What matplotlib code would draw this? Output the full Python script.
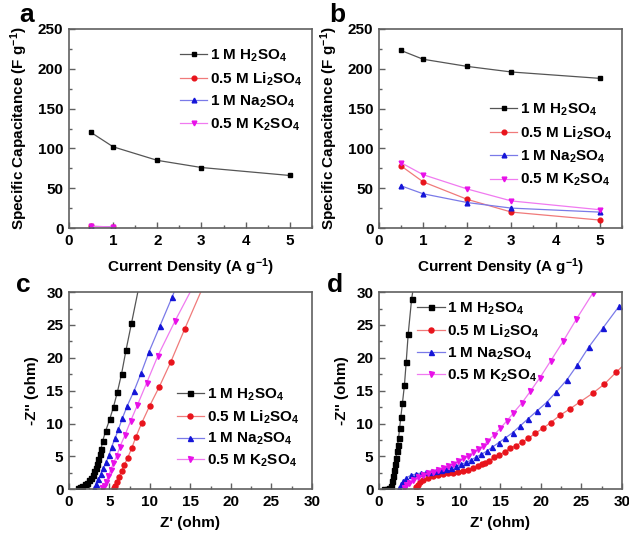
import matplotlib
matplotlib.use("Agg")
import matplotlib.pyplot as plt
from matplotlib.ticker import MultipleLocator

plt.rcParams['font.family'] = ['Liberation Sans', 'DejaVu Sans']
plt.rcParams['font.weight'] = 'bold'
plt.rcParams['axes.labelweight'] = 'bold'
plt.rcParams['mathtext.fontset'] = 'custom'
plt.rcParams['mathtext.rm'] = 'Liberation Sans:bold'
plt.rcParams['mathtext.bf'] = 'Liberation Sans:bold'
plt.rcParams['mathtext.it'] = 'Liberation Sans:bold:italic'

labels = ['1 M H$\\mathrm{_2}$SO$\\mathrm{_4}$', '0.5 M Li$\\mathrm{_2}$SO$\\mathrm{_4}$',
          '1 M Na$\\mathrm{_2}$SO$\\mathrm{_4}$', '0.5 M K$\\mathrm{_2}$SO$\\mathrm{_4}$']
colors = ['black', '#e8141c', '#1515d8', '#e810e8']
line_colors = ['#555555', '#f07a7a', '#7a7ae8', '#f07af0']
markers = ['s', 'o', '^', 'v']

# panel a: capacitance, first electrode
cur_a = [0.5, 1, 2, 3, 5]
cap_a_h2so4 = [120, 102, 85, 76, 66]
cur_a_short = [0.5, 1]
cap_a_li = [2, 1.5]
cap_a_na = [2, 1.5]
cap_a_k = [2, 1.5]

# panel b: capacitance, second electrode
cur_b = [0.5, 1, 2, 3, 5]
cap_b_h2so4 = [223, 212, 203, 196, 188]
cap_b_li = [78, 58, 36, 20, 10]
cap_b_na = [53, 43, 32, 25, 20]
cap_b_k = [82, 67, 49, 34, 23]

# panel c: Nyquist, first electrode
zr_c_h2so4 = [1.07, 1.4, 1.65, 1.95, 2.22, 2.5, 2.72, 2.93, 3.13, 3.3, 3.45, 3.62, 3.79, 3.97,
              4.16, 4.53, 5.03, 5.5, 5.97, 6.5, 7.05, 7.72, 8.75]
zi_c_h2so4 = [0.2, 0.35, 0.5, 0.75, 1.0, 1.4, 1.77, 2.25, 2.78, 3.3, 3.9, 4.6, 5.4, 6.2,
              7.35, 8.87, 10.65, 12.55, 14.75, 17.6, 21.2, 25.25, 31.5]
zr_c_li = [5.53, 5.69, 5.9, 6.18, 6.5, 6.84, 7.25, 7.75, 8.24, 8.99, 9.97, 11.16, 12.55, 14.3, 16.7]
zi_c_li = [0.15, 0.55, 1.16, 1.9, 2.8, 3.7, 4.8, 6.24, 7.9, 10.1, 12.7, 15.6, 19.3, 24.4, 31.2]
zr_c_na = [3.13, 3.34, 3.63, 3.92, 4.24, 4.57, 4.94, 5.28, 5.69, 6.1, 6.59, 7.2, 8.05, 8.92,
           9.9, 11.22, 12.73, 13.3]
zi_c_na = [0.25, 0.76, 1.5, 2.28, 3.2, 4.1, 5.2, 6.5, 7.75, 9.1, 10.8, 12.7, 15.0, 17.7,
           20.95, 24.8, 29.2, 31.0]
zr_c_k = [4.12, 4.33, 4.57, 4.86, 5.15, 5.48, 5.9, 6.3, 6.92, 7.62, 8.45, 9.6, 10.98, 13.1, 15.4]
zi_c_k = [0.15, 0.5, 1.16, 2.0, 2.94, 3.96, 5.1, 6.5, 8.26, 10.4, 12.8, 16.2, 20.3, 25.6, 31.0]

# panel d: Nyquist, second electrode
zr_d_h2so4 = [0.62, 0.96, 1.25, 1.5, 1.65, 1.78, 1.9, 2.0, 2.1, 2.2, 2.3, 2.42, 2.55, 2.7,
              2.9, 3.15, 3.36, 3.61, 4.03, 4.35]
zi_d_h2so4 = [0.1, 0.12, 0.2, 0.5, 1.2, 2.0, 2.9, 3.8, 4.8, 5.8, 6.7, 7.8, 9.3, 11.0,
              13.1, 15.9, 19.3, 23.6, 28.9, 31.5]
zr_d_li = [4.56, 4.77, 5.06, 5.48, 6.02, 6.64, 7.26, 7.88, 8.5, 9.13, 9.75, 10.37, 11.0, 11.6,
           12.2, 12.7, 13.1, 13.6, 14.24, 14.86, 15.57, 16.23, 16.94, 17.64, 18.47, 19.3,
           20.26, 21.21, 22.37, 23.58, 24.9, 26.4, 27.85, 29.3, 30.5]
zi_d_li = [0.3, 0.7, 1.1, 1.45, 1.75, 2.0, 2.2, 2.35, 2.45, 2.55, 2.65, 2.8, 2.95, 3.2,
           3.5, 3.8, 4.0, 4.35, 4.87, 5.22, 5.73, 6.24, 6.65, 7.15, 7.76, 8.52,
           9.28, 10.14, 11.26, 12.22, 13.34, 14.6, 16.0, 17.8, 19.2]
zr_d_na = [2.49, 2.7, 2.99, 3.4, 3.94, 4.56, 5.19, 5.8, 6.43, 7.05, 7.68, 8.3, 8.92, 9.54,
           10.17, 10.8, 11.4, 12.0, 12.65, 13.3, 14.0, 14.8, 15.6, 16.5, 17.4, 18.4, 19.5,
           20.7, 21.9, 23.25, 24.5, 25.9, 27.65, 29.7]
zi_d_na = [0.15, 0.8, 1.3, 1.77, 2.13, 2.33, 2.48, 2.58, 2.68, 2.78, 2.94, 3.09, 3.3, 3.5,
           3.8, 4.1, 4.46, 4.9, 5.3, 5.8, 6.4, 7.1, 7.8, 8.6, 9.6, 10.7, 11.9,
           13.2, 14.8, 16.7, 18.9, 21.6, 24.5, 27.9]
zr_d_k = [3.11, 3.32, 3.65, 4.15, 4.77, 5.39, 6.0, 6.64, 7.26, 7.88, 8.5, 9.13, 9.75, 10.37,
          11.0, 11.6, 12.24, 12.86, 13.4, 14.16, 15.0, 15.8, 16.6, 17.7, 18.7, 19.9, 21.2,
          22.75, 24.4, 26.4, 26.9]
zi_d_k = [0.26, 0.6, 1.0, 1.42, 1.82, 2.13, 2.43, 2.68, 2.94, 3.2, 3.55, 3.85, 4.26, 4.7,
          5.1, 5.6, 6.1, 6.6, 7.3, 8.2, 9.3, 10.4, 11.6, 13.2, 14.9, 17.0, 19.5,
          22.5, 25.9, 29.8, 31.0]


def style_axes(ax, xmax, ymax, xmaj, ymaj):
    ax.set_xlim(0, xmax)
    ax.set_ylim(0, ymax)
    ax.xaxis.set_major_locator(MultipleLocator(xmaj))
    ax.xaxis.set_minor_locator(MultipleLocator(xmaj / 2))
    ax.yaxis.set_major_locator(MultipleLocator(ymaj))
    ax.yaxis.set_minor_locator(MultipleLocator(ymaj / 2))
    ax.tick_params(which='both', direction='in', color='#606060', width=1,
                   labelsize=11, pad=4)
    ax.tick_params(which='major', length=4)
    ax.tick_params(which='minor', length=2.5)
    for sp in ax.spines.values():
        sp.set_color('#606060')
        sp.set_linewidth(1.2)
    for lab in ax.get_xticklabels() + ax.get_yticklabels():
        lab.set_fontweight('bold')


def draw(ax, xs, ys, ms):
    for x, y, c, lc, m, lab in zip(xs, ys, colors, line_colors, markers, labels):
        ax.plot(x, y, color=lc, marker=m, ms=ms, mfc=c, mec=c, lw=0.9, label=lab)


fig = plt.figure(figsize=(6.29, 5.33), dpi=100)
ax_a = fig.add_axes([0.1097, 0.5722, 0.386, 0.3734])
ax_b = fig.add_axes([0.6025, 0.5722, 0.386, 0.3734])
ax_c = fig.add_axes([0.1097, 0.0820, 0.386, 0.3700])
ax_d = fig.add_axes([0.6025, 0.0820, 0.386, 0.3700])

draw(ax_a, [cur_a, cur_a_short, cur_a_short, cur_a_short],
     [cap_a_h2so4, cap_a_li, cap_a_na, cap_a_k], 3.4)
draw(ax_b, [cur_b] * 4, [cap_b_h2so4, cap_b_li, cap_b_na, cap_b_k], 3.4)
draw(ax_c, [zr_c_h2so4, zr_c_li, zr_c_na, zr_c_k],
     [zi_c_h2so4, zi_c_li, zi_c_na, zi_c_k], 3.6)
draw(ax_d, [zr_d_h2so4, zr_d_li, zr_d_na, zr_d_k],
     [zi_d_h2so4, zi_d_li, zi_d_na, zi_d_k], 3.6)

for ax in (ax_a, ax_b):
    style_axes(ax, 5.5, 250, 1, 50)
    ax.set_xlabel('Current Density (A g$^{-1}$)', fontsize=11)
    ax.set_ylabel('Specific Capacitance (F g$^{-1}$)', fontsize=11)
    ax.xaxis.set_label_coords(0.5, -0.145)
    ax.yaxis.set_label_coords(-0.16, 0.5)
for ax in (ax_c, ax_d):
    style_axes(ax, 30, 30, 5, 5)
    ax.set_xlabel("Z' (ohm)", fontsize=11)
    ax.set_ylabel("-Z'' (ohm)", fontsize=11)
    ax.xaxis.set_label_coords(0.5, -0.135)
    ax.yaxis.set_label_coords(-0.123, 0.5)

leg_kw = dict(frameon=False, fontsize=11, handlelength=1.8, handletextpad=0.15,
              borderpad=0, borderaxespad=0, loc='upper left',
              bbox_transform=fig.transFigure)
ax_a.legend(bbox_to_anchor=(0.286, 0.911), labelspacing=0.41, **leg_kw)
ax_b.legend(bbox_to_anchor=(0.779, 0.810), labelspacing=0.45, **leg_kw)
ax_c.legend(bbox_to_anchor=(0.281, 0.275), labelspacing=0.35, **leg_kw)
ax_d.legend(bbox_to_anchor=(0.663, 0.436), labelspacing=0.37, **leg_kw)

for letter, x, y in [('a', 0.030, 0.959), ('b', 0.523, 0.959),
                     ('c', 0.026, 0.452), ('d', 0.520, 0.452)]:
    fig.text(x, y, letter, fontsize=19, fontweight='bold', va='baseline', ha='left')

fig.savefig('out.png', dpi=100)
